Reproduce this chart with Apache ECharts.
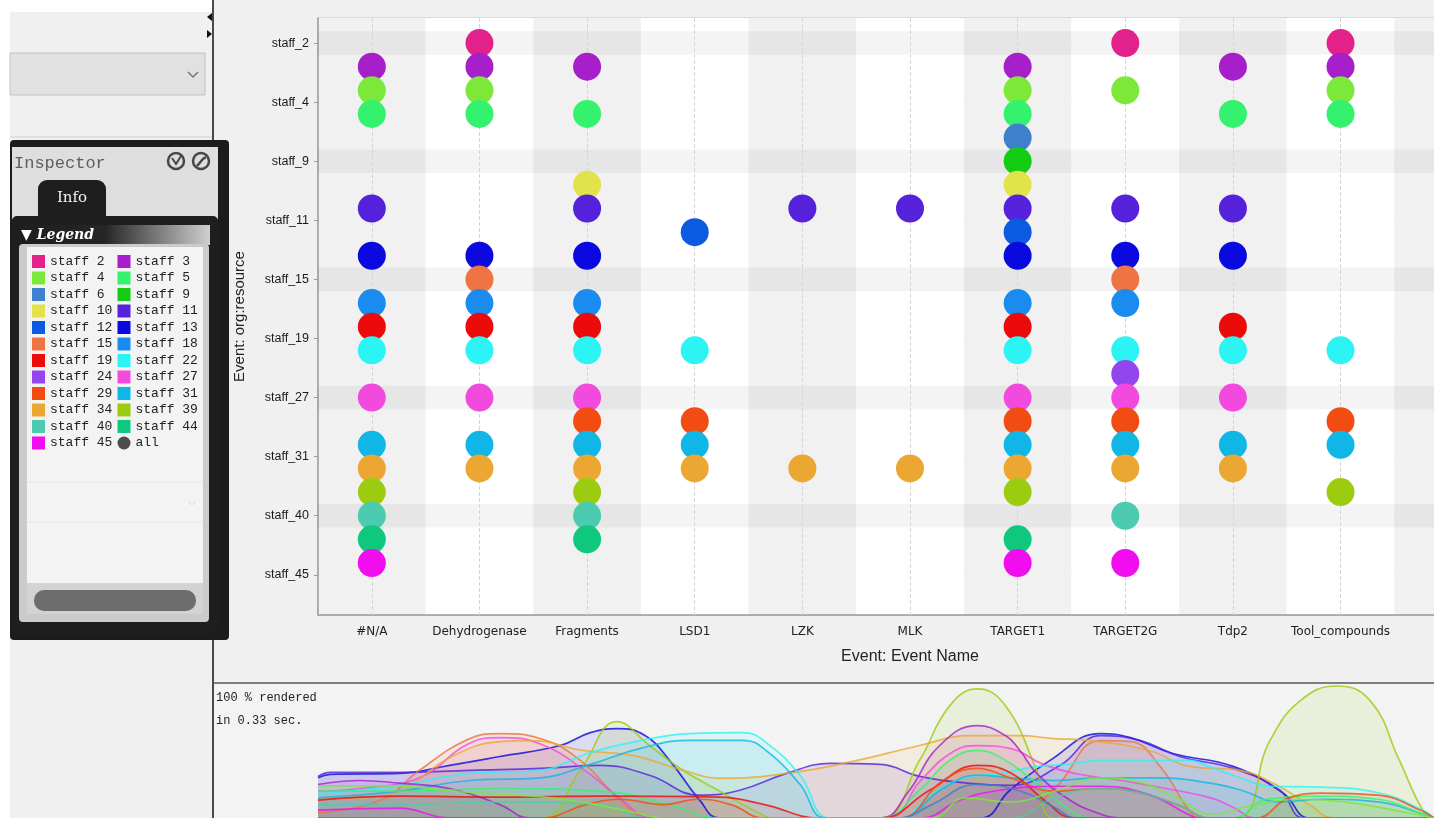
<!DOCTYPE html>
<html><head><meta charset="utf-8">
<script src="https://cdn.jsdelivr.net/npm/echarts@6/dist/echarts.min.js"></script>
<style>html,body{margin:0;padding:0;background:#f0f0f0;overflow:hidden}#c{width:1434px;height:818px}</style>
</head><body><div id="c"></div>
<script>
// ---------- data ----------
const events = ['#N/A','Dehydrogenase','Fragments','LSD1','LZK','MLK','TARGET1','TARGET2G','Tdp2','Tool_compounds'];
const staffNames = ['staff 2','staff 3','staff 4','staff 5','staff 6','staff 9','staff 10','staff 11','staff 12','staff 13','staff 15','staff 18','staff 19','staff 22','staff 24','staff 27','staff 29','staff 31','staff 34','staff 39','staff 40','staff 44','staff 45'];
const staffColors = ['#e3218b','#a61fcb','#7be83a','#35f26e','#3f80cc','#14cc14','#e2e24a','#5521db','#0b5ae0','#0a0ae0','#ee7443','#1a8cf0','#ec0b0b','#2cf4f4','#9446ee','#f24ade','#f24c12','#10b6e6','#eca632','#9ccc10','#4ccbb0','#0fc87e','#f20cf0'];
const staffEvents = [
  ['Dehydrogenase','TARGET2G','Tool_compounds'],
  ['#N/A','Dehydrogenase','Fragments','TARGET1','Tdp2','Tool_compounds'],
  ['#N/A','Dehydrogenase','TARGET1','TARGET2G','Tool_compounds'],
  ['#N/A','Dehydrogenase','Fragments','TARGET1','Tdp2','Tool_compounds'],
  ['TARGET1'],
  ['TARGET1'],
  ['Fragments','TARGET1'],
  ['#N/A','Fragments','LZK','MLK','TARGET1','TARGET2G','Tdp2'],
  ['LSD1','TARGET1'],
  ['#N/A','Dehydrogenase','Fragments','TARGET1','TARGET2G','Tdp2'],
  ['Dehydrogenase','TARGET2G'],
  ['#N/A','Dehydrogenase','Fragments','TARGET1','TARGET2G'],
  ['#N/A','Dehydrogenase','Fragments','TARGET1','Tdp2'],
  ['#N/A','Dehydrogenase','Fragments','LSD1','TARGET1','TARGET2G','Tdp2','Tool_compounds'],
  ['TARGET2G'],
  ['#N/A','Dehydrogenase','Fragments','TARGET1','TARGET2G','Tdp2'],
  ['Fragments','LSD1','TARGET1','TARGET2G','Tool_compounds'],
  ['#N/A','Dehydrogenase','Fragments','LSD1','TARGET1','TARGET2G','Tdp2','Tool_compounds'],
  ['#N/A','Dehydrogenase','Fragments','LSD1','LZK','MLK','TARGET1','TARGET2G','Tdp2'],
  ['#N/A','Fragments','TARGET1','Tool_compounds'],
  ['#N/A','Fragments','TARGET2G'],
  ['#N/A','Fragments','TARGET1'],
  ['#N/A','TARGET1','TARGET2G']
];
const yTickLabels = ['staff_2','staff_4','staff_9','staff_11','staff_15','staff_19','staff_27','staff_31','staff_40','staff_45'];
const yTickValues = [0,2.5,5,7.5,10,12.5,15,17.5,20,22.5];
const bandRows = ['staff 2','staff 9','staff 15','staff 27','staff 40'];

// density overview (x: 0-100 along timeline, y: 0-100 relative height)
const densityStaff = ['staff 13','staff 11','staff 39','staff 15','staff 27','staff 34','staff 22','staff 31','staff 3','staff 5','staff 19','staff 29','staff 45','staff 40','staff 6','staff 4'];
const densityPoints = [
  [[0,30],[1.1,32.6],[7.3,33.3],[11.8,39.3],[16.3,45.9],[21.7,54.1],[24.4,63.7],[26.8,66.7],[29.3,61.5],[31.5,43],[34.2,13.3],[36,0],[59.3,0],[62,20.7],[65.6,43],[70.1,63],[72.8,60],[76.6,48.1],[82,38.5],[86.5,18.5],[88.9,0],[100,0]],
  [[0,31],[1.1,34],[7.3,34],[13.6,35.6],[19.9,37],[25.3,39.3],[29.7,31.9],[34.2,17],[37.8,20.7],[42,33.3],[45.9,40.7],[50.4,40],[53.9,31.1],[58.4,25.9],[62,24.4],[66.5,39.3],[70.1,61.5],[73.7,57.8],[77.2,45.9],[82,37],[86.2,20.7],[88.4,0],[100,0]],
  [[0,0],[19.9,0],[23.5,35.6],[26.8,71.9],[29.7,54.1],[32.7,35.6],[36,20],[39,6],[41,0],[50.4,0],[53.9,43],[56.6,83.7],[59.1,96.3],[61.6,83.7],[64.4,35.6],[66,0],[82,0],[85.3,57.8],[88,87.4],[91.3,98.5],[94.3,87.4],[96.9,43],[99,5.9],[100,0]],
  [[0,4],[5.6,13.3],[9.1,35.6],[13.4,58.5],[16.3,63],[19.9,59.3],[23.5,43],[27.1,13.3],[29.7,0],[62,0],[66,22],[70.1,57.8],[72.8,57],[75.5,38],[78.1,5],[79,0],[100,0]],
  [[0,20],[3.8,22],[9.1,30],[13.4,55],[16.3,60],[20,55],[24,35],[27,15],[30,0],[51,0],[54,28],[57,50],[59.1,54],[62,52],[65,40],[68,33],[72,28],[76,22],[80,15],[82,8],[84,0],[100,0]],
  [[0,14],[3.8,15],[7.3,20],[11.8,45],[16.3,57],[19.3,57.8],[23.7,50.4],[28.2,46.7],[32.7,35.6],[36,29.6],[42,33.3],[47.9,42.2],[53.9,54.1],[58.4,61.5],[62.9,61.5],[65.9,59.3],[69.2,57.8],[74.6,50],[78.1,38.5],[82.6,35.6],[85.6,25.9],[88.9,9.6],[91,0],[100,0]],
  [[0,18],[7.3,24.4],[13.6,33.3],[19.9,35.6],[24.4,48.9],[28.9,57.8],[33.3,63],[38.1,63.7],[40.5,54],[43.2,31.9],[45.9,0],[52,0],[55,18],[58,30],[61,33],[64,38],[67,40],[70.1,43],[74.6,43],[78.1,43],[80,38],[82.6,30],[85.3,23.7],[90,23],[95.2,18.5],[99,5.9],[100,0]],
  [[0,15],[7.3,20],[13.6,28],[19.9,30],[24.4,40],[28.9,52],[33.3,58],[38.1,58],[40.5,48],[43.2,25],[45.5,0],[52,0],[56,22],[59.1,32],[62,30],[66,28],[70,30],[75,30],[80,26],[83,20],[86,12],[90,14],[95,12],[99,3],[100,0]],
  [[0,25],[3.8,28],[7.3,26],[11.8,22],[16.3,10],[19,0],[50.4,0],[52.8,18.5],[55.7,54.1],[59.1,68.9],[61.6,61.5],[62.9,50.4],[64.4,33.3],[67.4,13.3],[70.1,3],[72,0],[100,0]],
  [[0,20],[7.3,20],[16.3,22],[25.3,20],[31.5,10],[36,0],[50.4,0],[53.9,20.7],[56.6,43],[59.1,50.4],[61.6,43],[64.4,25.9],[67.4,5.9],[69.2,0],[82,0],[85,14],[90,16.3],[95,14],[99,3],[100,0]],
  [[0,13.3],[7.3,16.3],[16.3,15.6],[25.3,16.3],[36,15.6],[40,10],[45,0],[50.4,0],[54.8,20.7],[59.1,39.3],[62,34],[65.1,13.3],[67.8,0],[100,0]],
  [[0,0],[20,0],[24,10],[27,14],[31,10],[34,14],[37,10],[40,0],[52,0],[56,28],[59.1,37],[62,30],[66,20],[70,22],[73,20],[77,10],[80,0],[84,0],[87,15],[90,18.5],[95,17],[99,5],[100,0]],
  [[0,5.9],[7.3,7.4],[11.8,0],[54,0],[57.5,13.3],[61.1,20.7],[65.9,23.7],[70.1,23.7],[74.6,17],[78.1,2.2],[79,0],[100,0]],
  [[0,10],[7.3,10],[16.3,12],[25.3,10],[29.7,0],[62,0],[66,15],[70,22],[73,20],[77,10],[80,0],[100,0]],
  [[0,0],[52,0],[55,10],[59,25],[63,20],[66,8],[68,0],[100,0]],
  [[0,24],[7.3,24],[12,20],[16,18],[22,14],[28,5],[31,0],[55,0],[58,15],[62,12],[66,20],[70.1,30],[73,28],[77,15],[80,3],[84,10],[88,14],[92,12],[97,5],[100,0]]
];

// ---------- chart ----------
const chart = echarts.init(document.getElementById('c'), null, {renderer:'canvas'});
const colorOf = n => staffColors[staffNames.indexOf(n)];

const series = [];
series.push({
  type:'scatter', name:'__guides', data:[], xAxisIndex:0, yAxisIndex:0, z:1, silent:true,
  markArea:{ silent:true, z:1, itemStyle:{color:'rgba(0,0,0,0.045)'},
    data: bandRows.map(n => { const i = staffNames.indexOf(n); return [{yAxis:i-0.5},{yAxis:i+0.5}]; }) },
  markLine:{ silent:true, z:1, symbol:['none','none'], label:{show:false},
    lineStyle:{type:'dashed', color:'#d6d6d6', width:1},
    data: events.map(e => ({xAxis:e})) }
});
staffNames.forEach((n,i) => {
  series.push({
    type:'scatter', name:n, xAxisIndex:0, yAxisIndex:0, z:3,
    symbol:'circle', symbolSize:28,
    itemStyle:{color:staffColors[i], opacity:1},
    emphasis:{disabled:true},
    data: staffEvents[i].map(e => [e, i])
  });
});
series.push({type:'scatter', name:'all', data:[], itemStyle:{color:'#222'}, xAxisIndex:0, yAxisIndex:0});
densityStaff.forEach((n,k) => {
  series.push({
    type:'line', name:n, xAxisIndex:1, yAxisIndex:1, smooth:0.45, symbol:'none', z:2, silent:true,
    lineStyle:{color:colorOf(n), width:1.7, opacity:0.8},
    itemStyle:{color:colorOf(n)},
    areaStyle:{color:colorOf(n), opacity:0.1},
    data: densityPoints[k]
  });
});

const graphic = [
  {type:'rect', shape:{x:0,y:0,width:10,height:818}, style:{fill:'#ffffff'}},
  {type:'rect', shape:{x:0,y:0,width:212,height:12}, style:{fill:'#ffffff'}},
  {type:'rect', shape:{x:10,y:53,width:195,height:42}, style:{fill:'#e1e1e1', stroke:'#c2c2c2', lineWidth:1}},
  {type:'polyline', shape:{points:[[188,72],[193,77],[198,72]]}, style:{stroke:'#777', lineWidth:1.5, fill:null}},
  {type:'line', shape:{x1:10,y1:137,x2:212,y2:137}, style:{stroke:'#cfcfcf', lineWidth:1}},
  {type:'line', shape:{x1:213,y1:0,x2:213,y2:818}, style:{stroke:'#4a4a4a', lineWidth:2}},
  {type:'polygon', shape:{points:[[207,17],[212,13],[212,21]]}, style:{fill:'#111'}},
  {type:'polygon', shape:{points:[[212,34],[207,30],[207,38]]}, style:{fill:'#111'}},
  {type:'rect', shape:{x:10,y:140,width:219,height:500,r:4}, style:{fill:'#1c1c1c'}},
  {type:'rect', shape:{x:12,y:147,width:206,height:72}, style:{fill:'#dedede'}},
  {type:'text', x:14, y:163, style:{text:'Inspector', font:'17px "Liberation Mono"', fill:'#5e5e5e', verticalAlign:'middle'}},
  {type:'circle', shape:{cx:176,cy:161,r:8}, style:{fill:null, stroke:'#474747', lineWidth:2.5}},
  {type:'polyline', shape:{points:[[172,158],[176,164],[181,156]]}, style:{fill:null, stroke:'#474747', lineWidth:2}},
  {type:'circle', shape:{cx:201,cy:161,r:8}, style:{fill:null, stroke:'#474747', lineWidth:2.5}},
  {type:'polyline', shape:{points:[[197,166],[203,159],[206,157]]}, style:{fill:null, stroke:'#474747', lineWidth:2.5}},
  {type:'rect', shape:{x:38,y:180,width:68,height:40,r:[9,9,0,0]}, style:{fill:'#1e1e1e'}},
  {type:'text', x:72, y:198, style:{text:'Info', font:'15px "DejaVu Serif"', fill:'#f2f2f2', align:'center', verticalAlign:'middle'}},
  {type:'rect', shape:{x:12,y:216,width:206,height:418,r:5}, style:{fill:'#1e1e1e'}},
  {type:'rect', shape:{x:19,y:225,width:191,height:20}, style:{fill:new echarts.graphic.LinearGradient(0,0,1,0,[{offset:0,color:'#1e1e1e'},{offset:0.45,color:'#262626'},{offset:1,color:'#cfcfcf'}])}},
  {type:'text', x:21, y:235, style:{text:'\u25BC Legend', font:'italic bold 14px "DejaVu Serif"', fill:'#ffffff', verticalAlign:'middle'}},
  {type:'rect', shape:{x:19,y:244,width:190,height:378,r:4}, style:{fill:'#cbcbcb'}},
  {type:'rect', shape:{x:27,y:247,width:176,height:336}, style:{fill:'#f3f3f3'}},
  {type:'line', shape:{x1:27,y1:482,x2:203,y2:482}, style:{stroke:'#e6e6e6', lineWidth:1}},
  {type:'line', shape:{x1:27,y1:522,x2:203,y2:522}, style:{stroke:'#e6e6e6', lineWidth:1}},
  {type:'polyline', shape:{points:[[188,501],[192,505],[196,501]]}, style:{stroke:'#dadada', lineWidth:1, fill:null}},
  {type:'rect', shape:{x:27,y:583,width:176,height:31}, style:{fill:'#d3d3d3'}},
  {type:'rect', shape:{x:34,y:590,width:162,height:21,r:10}, style:{fill:'#6d6d6d'}},
  {type:'rect', shape:{x:214,y:684,width:1220,height:134}, style:{fill:'#f3f3f3'}, z:-10},
  {type:'line', shape:{x1:214,y1:683,x2:1434,y2:683}, style:{stroke:'#7d7d7d', lineWidth:2}},
  {type:'text', x:216, y:698, style:{text:'100 % rendered', font:'12px "Liberation Mono"', fill:'#222', verticalAlign:'middle'}},
  {type:'text', x:216, y:721, style:{text:'in 0.33 sec.', font:'12px "Liberation Mono"', fill:'#222', verticalAlign:'middle'}}
];

chart.setOption({
  backgroundColor:'#f0f0f0',
  animation:false,
  graphic: graphic,
  legend:{
    left:32, top:255, width:180, orient:'horizontal', padding:0,
    itemWidth:13, itemHeight:13, itemGap:3.5, icon:'rect',
    textStyle:{fontFamily:'"Liberation Mono", monospace', fontSize:13, color:'#222', width:64, lineHeight:13},
    data: staffNames.map(n => ({name:n})).concat([{name:'all', icon:'circle'}])
  },
  grid:[
    {left:318, top:18, width:1184, height:597, outerBoundsMode:'none', containLabel:false, show:true, backgroundColor:'#ffffff', borderColor:'#c4c4c4', borderWidth:1},
    {left:318, top:684, width:1116, height:134, outerBoundsMode:'none'}
  ],
  xAxis:[
    {type:'category', gridIndex:0, data:events, max:10, boundaryGap:true,
     name:'Event: Event Name', nameLocation:'middle', nameGap:34,
     nameTextStyle:{fontFamily:'"Liberation Sans", Arial', fontSize:16, color:'#222'},
     axisLine:{onZero:false, lineStyle:{color:'#9a9a9a', width:1.5}},
     axisTick:{alignWithLabel:true, length:4, lineStyle:{color:'#9a9a9a'}},
     axisLabel:{interval:0, margin:11, fontFamily:'"DejaVu Sans"', fontSize:12, color:'#222'},
     splitLine:{show:false},
     splitArea:{show:true, areaStyle:{color:['#f1f1f1','#ffffff']}}},
    {type:'value', gridIndex:1, min:0, max:100, show:false}
  ],
  yAxis:[
    {type:'value', gridIndex:0, inverse:true, min:-1.06, max:24.2,
     name:'Event: org:resource', nameLocation:'middle', nameGap:71, nameRotate:90,
     nameTextStyle:{fontFamily:'"Liberation Sans", Arial', fontSize:15, color:'#222'},
     axisLine:{show:true, onZero:false, lineStyle:{color:'#9a9a9a', width:1.5}},
     axisTick:{show:true, length:4, customValues:yTickValues, lineStyle:{color:'#9a9a9a'}},
     axisLabel:{customValues:yTickValues, margin:9, fontFamily:'"Liberation Sans", Arial', fontSize:12.5, color:'#1a1a1a',
       formatter: v => { const k = yTickValues.indexOf(v); return k >= 0 ? yTickLabels[k] : ''; }},
     splitLine:{show:true, lineStyle:{color:'#e2e2e2', type:'dashed', width:1}}},
    {type:'value', gridIndex:1, min:0, max:100, show:false}
  ],
  series: series
});
</script>
</body></html>
